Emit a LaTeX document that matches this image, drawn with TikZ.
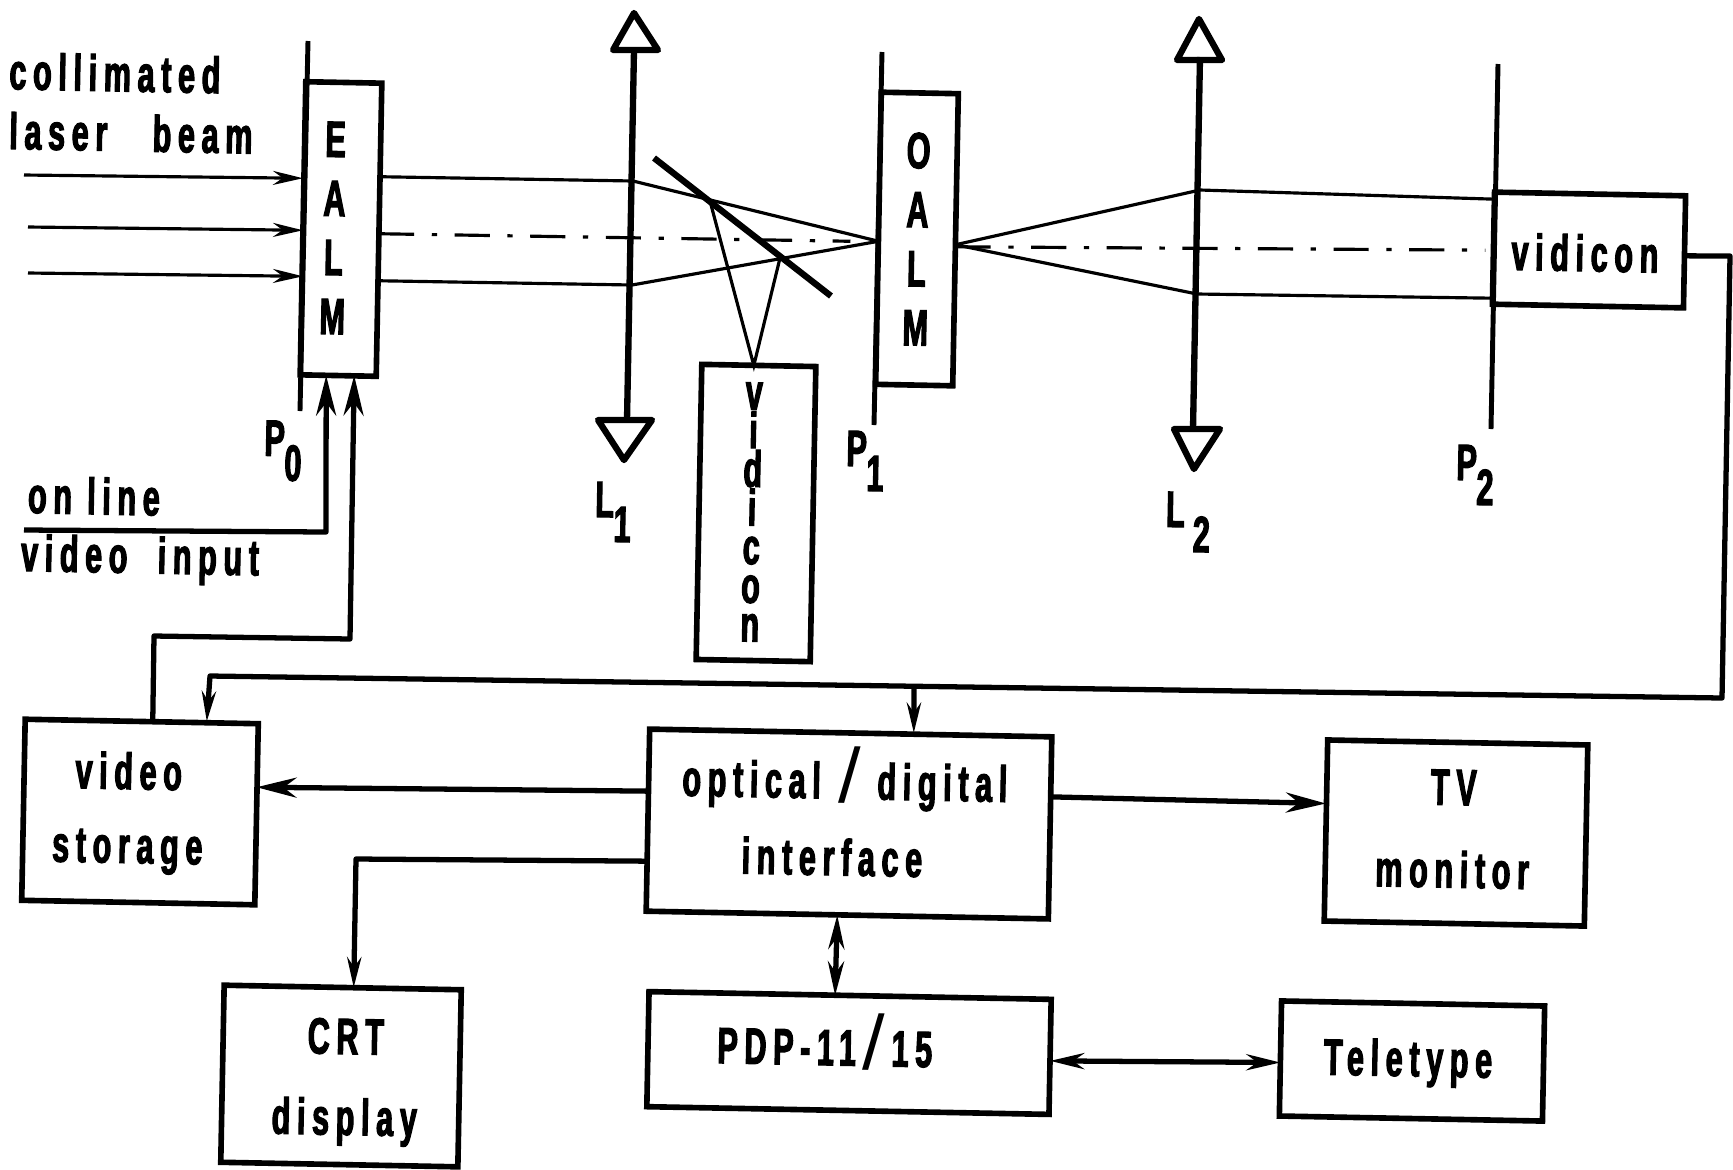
\documentclass[tikz,border=0pt]{standalone}
\usepackage{fontspec}
\setmainfont{Liberation Sans}[FakeStretch=.6,LetterSpace=13,FakeBold=2.2]
\newfontfamily\slashfont{Liberation Sans}[BoldFont={Liberation Sans}]
\usetikzlibrary{arrows.meta}
\newcommand{\lowsub}[1]{\raisebox{-7pt}{#1}}
\newcommand{\tallslash}{{\slashfont\fontsize{22}{22}\selectfont\raisebox{-1pt}{/}}}
\tikzset{
  box/.style={draw,line width=1.6pt,rotate=-1.1,inner sep=0pt,outer sep=0pt,align=center,font=\bfseries\fontsize{14.5}{16.8}\selectfont},
  tag/.style={rotate=-1.1,inner sep=0pt,align=center,font=\bfseries\fontsize{14.5}{16.8}\selectfont},
  ray/.style={line width=.9pt},
  axis/.style={line width=.9pt,dash pattern=on 10pt off 5pt on 1.5pt off 5pt},
  plane/.style={line width=1.4pt},
  lens/.style={line width=1.8pt,line join=round},
  wire/.style={line width=1.5pt,line join=round},
  tip/.style={-{Stealth[length=.3cm,width=.14cm]}},
  bigtip/.style={-{Stealth[length=.4cm,width=.2cm]}},
  bothtip/.style={{Stealth[length=.34cm,width=.16cm]}-{Stealth[length=.34cm,width=.16cm]}}
}
\begin{document}
\begin{tikzpicture}[x=.01cm,y=-.01cm]
      \useasboundingbox (0,0) rectangle (1733,1169);
      \draw
        (341,229) node[box,minimum width=.76cm,minimum height=2.93cm] (ealm){}
        (917,239) node[box,minimum width=.77cm,minimum height=2.92cm] (oalm){O\\A\\L\\M}
        (756,513) node[box,minimum width=1.14cm,minimum height=2.95cm,font=\bfseries\fontsize{14.5}{11}\selectfont] (camA){}
        (1589,250) node[box,minimum width=1.91cm,minimum height=1.12cm] (camB){}
        (140,812) node[box,minimum width=2.33cm,minimum height=1.81cm] (storage){}
        (849,824) node[box,minimum width=4.02cm,minimum height=1.82cm] (interface){}
        (1456,833) node[box,minimum width=2.6cm,minimum height=1.81cm] (monitor){}
        (341,1076) node[box,minimum width=2.37cm,minimum height=1.77cm] (crt){}
        (849,1053) node[box,minimum width=4.02cm,minimum height=1.15cm] (pdp){}
        (1412,1061) node[box,minimum width=2.63cm,minimum height=1.15cm] (teletype){};
      \draw
        (334,228) node[tag] (t17){E\\A\\L\\M}
        (752,512) node[tag,font=\bfseries\fontsize{14.5}{11}\selectfont] (t18){v\\i\\d\\i\\c\\o\\n}
        (1585,253) node[tag] (t16){vidicon}
        (115,73) node[tag] (t0){collimated}
        (131,133) node[tag] (t1){laser\ \ \ beam}
        (94,496) node[tag] (t2){on line}
        (140,560) node[tag] (t3){video\ \ input}
        (283,451) node[tag] (t4){P\lowsub{0}}
        (865,461) node[tag] (t5){P\lowsub{1}}
        (613,512) node[tag] (t6){L\lowsub{1}}
        (1188,522) node[tag] (t7){L\,\lowsub{2}}
        (1475,475) node[tag] (t8){P\lowsub{2}}
        (128,813) node[tag,font=\bfseries\fontsize{14.5}{21}\selectfont] (t9){video\\storage}
        (845,778) node[tag] (t10){optical\hspace{5pt}\tallslash\hspace{5pt}digital}
        (832,857) node[tag] (t11){interface}
        (1453,829) node[tag,font=\bfseries\fontsize{14.5}{23.5}\selectfont] (t12){TV\\monitor}
        (345,1082) node[tag,font=\bfseries\fontsize{14.5}{23}\selectfont] (t13){CRT\\display}
        (825,1041) node[tag] (t14){PDP-11\hspace{2pt}\tallslash\hspace{2pt}15}
        (1408,1063) node[tag] (t15){Teletype};
      \draw
        (308,41) coordinate (p0a)
        (300,411) coordinate (p0b)
        (882,52) coordinate (p1a)
        (874,425) coordinate (p1b)
        (1498,64) coordinate (p2a)
        (1491,429) coordinate (p2b)
        (634,50) coordinate (l1a)
        (627,420) coordinate (l1b)
        (1200,57) coordinate (l2a)
        (1193,429) coordinate (l2b)
        (634,13) coordinate (l1tip)
        (613,50) coordinate (l1c)
        (658,50) coordinate (l1d)
        (624,460) coordinate (l1low)
        (598,420) coordinate (l1e)
        (652,420) coordinate (l1f)
        (1199,19) coordinate (l2tip)
        (1177,60) coordinate (l2c)
        (1222,60) coordinate (l2d)
        (1194,469) coordinate (l2low)
        (1174,429) coordinate (l2e)
        (1220,429) coordinate (l2f)
        (654,158) coordinate (mirrorA)
        (831,296) coordinate (mirrorB)
        (710,201) coordinate (hitA)
        (780,258) coordinate (hitB)
        (633,181) coordinate (rayA)
        (632,285) coordinate (rayB)
        (1200,190) coordinate (rayC)
        (1197,294) coordinate (rayD)
        (24,175) coordinate (inA)
        (28,227) coordinate (inB)
        (28,273) coordinate (inC)
        (24,530) coordinate (feed)
        (326,532) coordinate (feedbend)
        (154,636) coordinate (backA)
        (350,639) coordinate (backB)
        (1730,256) coordinate (busA)
        (1722,698) coordinate (busB)
        (210,676) coordinate (busC)
        (914,688) coordinate (busD)
        (356,859) coordinate (crtbend);
      \begin{scope}[plane]
        \draw (p0a) to (p0b);
        \draw (p1a) to (p1b);
        \draw (p2a) to (p2b);
      \end{scope}
      \begin{scope}[lens]
        \draw (l1a) to (l1b);
        \draw (l2a) to (l2b);
        \draw (l1tip) -- (l1c) -- (l1d) -- cycle;
        \draw (l1low) -- (l1e) -- (l1f) -- cycle;
        \draw (l2tip) -- (l2c) -- (l2d) -- cycle;
        \draw (l2low) -- (l2e) -- (l2f) -- cycle;
        \draw (mirrorA) to (mirrorB);
      \end{scope}
      \begin{scope}[ray]
        \draw[tip] (inA) to ([yshift=.5cm]ealm.west);
        \draw[tip] (inB) to ([yshift=-.02cm]ealm.west);
        \draw[tip] (inC) to ([yshift=-.48cm]ealm.west);
        \draw ([yshift=.53cm]ealm.east) -- (rayA) -- ([yshift=-.03cm]oalm.west);
        \draw ([yshift=-.51cm]ealm.east) -- (rayB) -- ([yshift=-.03cm]oalm.west);
        \draw (hitA) -- ([xshift=-.05cm]camA.north) -- (hitB);
        \draw ([yshift=-.05cm]oalm.east) -- (rayC) -- ([yshift=.49cm]camB.west);
        \draw ([yshift=-.05cm]oalm.east) -- (rayD) -- ([yshift=-.5cm]camB.west);
      \end{scope}
      \draw[axis] ([yshift=-.04cm]ealm.east) to ([yshift=-.03cm,xshift=-.28cm]oalm.west);
      \draw[axis] ([yshift=-.07cm]oalm.east) to ([yshift=-.02cm,xshift=-.08cm]camB.west);
      \begin{scope}[wire]
        \draw[bigtip] (feed) -- (feedbend) -- ([xshift=-.12cm]ealm.south);
        \draw[bigtip] ([xshift=.11cm]storage.north) -- (backA) -- (backB) -- ([xshift=.16cm]ealm.south);
        \draw[tip] ([yshift=-.04cm]camB.east) -- (busA) -- (busB) -- (busC) -- ([xshift=.65cm]storage.north);
        \draw[tip] (busD) to ([xshift=.63cm]interface.north);
        \draw[bigtip] ([yshift=.29cm]interface.west) to ([yshift=.27cm]storage.east);
        \draw[tip] ([yshift=-.41cm]interface.west) -- (crtbend) -- ([xshift=.11cm]crt.north);
        \draw[bigtip] ([yshift=.31cm]interface.east) to ([yshift=.27cm]monitor.west);
        \draw[bothtip] ([xshift=-.1cm]interface.south) to ([xshift=-.15cm]pdp.north);
        \draw[bothtip] ([yshift=-.04cm]pdp.east) to ([yshift=-.04cm]teletype.west);
      \end{scope}
\end{tikzpicture}
\end{document}
